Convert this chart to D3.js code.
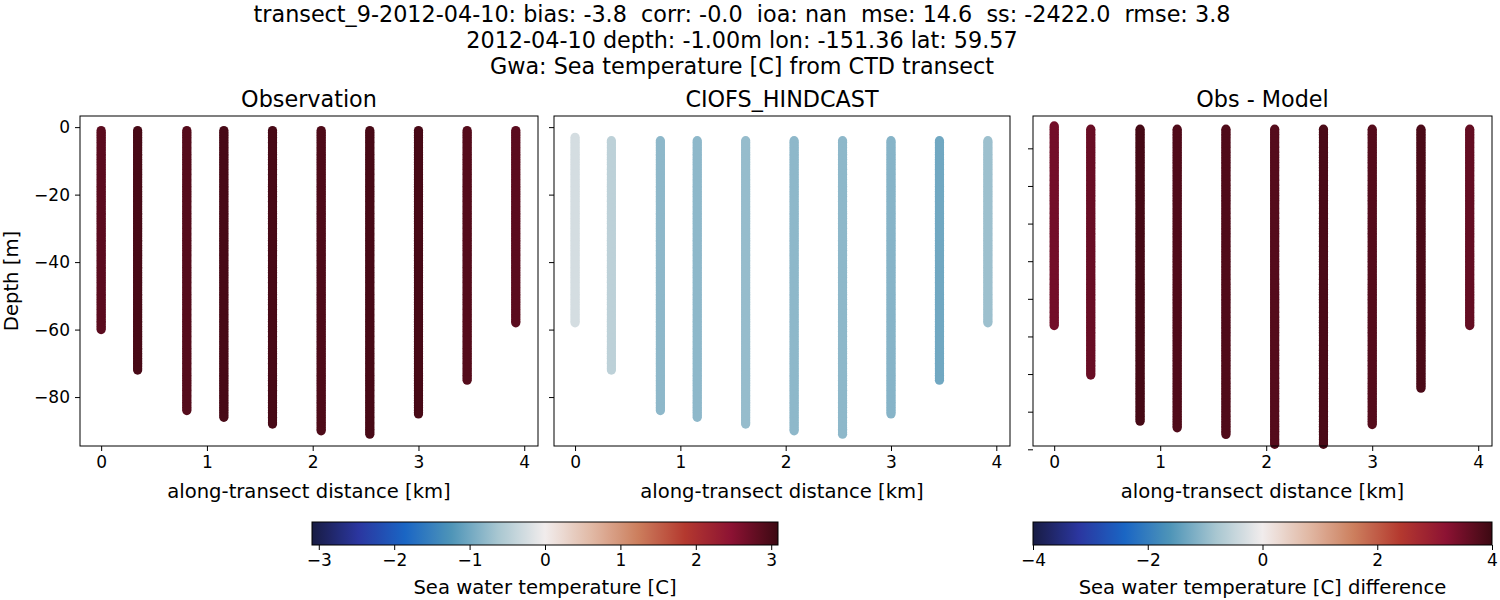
<!DOCTYPE html>
<html><head><meta charset="utf-8">
<script src="https://cdn.jsdelivr.net/npm/d3@7"></script>
<style>body{margin:0;background:#fff;font-family:"DejaVu Sans",sans-serif}text{white-space:pre}</style>
</head><body><svg id="fig" width="1500" height="600"></svg>
<script>
// station data
const dist = [0, 0.345, 0.81, 1.16, 1.62, 2.08, 2.54, 3.0, 3.46, 3.92];
const obsTop = [-1, -1, -1, -1, -1, -1, -1, -1, -1, -1];
const obsBottom = [-60, -72, -84, -86, -88, -90, -91, -85, -75, -58];
const obsTemp = [2.85, 3.0, 2.9, 3.0, 3.0, 2.95, 3.0, 3.0, 2.9, 2.85];
const modTop = [-3, -4, -4, -4, -4, -4, -4, -4, -4, -4];
const modBottom = [-58, -72, -84, -86, -88, -90, -91, -85, -75, -58];
const modTemp = [-0.25, -0.45, -0.8, -0.8, -0.75, -0.8, -0.8, -0.85, -1.0, -0.7];
const diffTop = [1.5, 0.5, 0.5, 0.5, 0.5, 0.5, 0.5, 0.5, 0.5, 0.5];
const diffBottom = [-59, -74, -88, -90, -92, -95, -95, -89, -78, -59];
const diffVal = [3.45, 3.55, 3.9, 3.8, 3.8, 3.75, 3.85, 3.75, 3.85, 3.6];
const xTicks = [0, 1, 2, 3, 4];
const yTicks = [0, -20, -40, -60, -80];
const cb1Ticks = [-3, -2, -1, 0, 1, 2, 3];
const cb2Ticks = [-4, -2, 0, 2, 4];
const titleLines = [
  'transect_9-2012-04-10: bias: -3.8  corr: -0.0  ioa: nan  mse: 14.6  ss: -2422.0  rmse: 3.8',
  '2012-04-10 depth: -1.00m lon: -151.36 lat: 59.57',
  'Gwa: Sea temperature [C] from CTD transect'
];

// approx cmocean "balance"
const balStops = ['#181c43', '#2b36a0', '#1a66c4', '#4f95b8', '#a9c7d1', '#f1ecec',
  '#e1b9a5', '#cc7e5d', '#b4392f', '#8c1233', '#3c0912'];
const balance = d3.scaleLinear().domain(d3.range(11).map(i => i / 10)).range(balStops).clamp(true);

const svg = d3.select('#fig');
const font = '"DejaVu Sans", sans-serif';
const minus = d => d < 0 ? '\u2212' + (-d) : d;

svg.selectAll('text.title').data(titleLines).enter().append('text')
  .attr('x', 742).attr('y', (d, i) => 22 + i * 26)
  .attr('text-anchor', 'middle').attr('font-size', 22.3).attr('font-family', font)
  .text(d => d);

const panels = [
  {x0: 80, x1: 538, title: 'Observation', top: obsTop, bottom: obsBottom, val: obsTemp, vmax: 3.09, yd: [-94.5, 3.3], labels: true},
  {x0: 554, x1: 1010, title: 'CIOFS_HINDCAST', top: modTop, bottom: modBottom, val: modTemp, vmax: 3.09, yd: [-94.5, 3.3], labels: false},
  {x0: 1033, x1: 1492, title: 'Obs - Model', top: diffTop, bottom: diffBottom, val: diffVal, vmax: 4, yd: [-95.5, 4.5], labels: false, diffTicks: true}
];
const y0 = 116, y1 = 446;

panels.forEach(p => {
  const x = d3.scaleLinear().domain([-0.2, 4.13]).range([p.x0, p.x1]);
  const y = d3.scaleLinear().domain(p.yd).range([y1, y0]);
  const col = d3.scaleLinear().domain([-p.vmax, p.vmax]).range([0, 1]);
  const g = svg.append('g');
  const pts = [];
  dist.forEach((d, i) => {
    for (let z = p.top[i]; z >= p.bottom[i]; z -= 0.5) pts.push({x: d, z: z, v: p.val[i]});
  });
  g.selectAll('circle').data(pts).enter().append('circle')
    .attr('cx', d => x(d.x)).attr('cy', d => y(d.z)).attr('r', 4.6)
    .attr('fill', d => balance(col(d.v)));
  g.append('rect').attr('x', p.x0).attr('y', y0).attr('width', p.x1 - p.x0).attr('height', y1 - y0)
    .attr('fill', 'none').attr('stroke', '#000').attr('stroke-width', 1);
  const xa = g.append('g').attr('transform', `translate(0,${y1})`)
    .call(d3.axisBottom(x).tickValues(xTicks).tickSize(5).tickPadding(5).tickFormat(d3.format('d')));
  xa.select('.domain').remove();
  xa.selectAll('text').attr('font-size', 17).attr('font-family', font);
  let ya;
  if (p.diffTicks) {
    const tv = d3.range(9).map(i => -5.3 - i * 11.4);
    ya = g.append('g').attr('transform', `translate(${p.x0},0)`)
      .call(d3.axisLeft(y).tickValues(tv).tickSize(5).tickFormat(''));
  } else {
    ya = g.append('g').attr('transform', `translate(${p.x0},0)`)
      .call(d3.axisLeft(y).tickValues(yTicks).tickSize(5).tickPadding(5)
        .tickFormat(p.labels ? minus : ''));
  }
  ya.select('.domain').remove();
  ya.selectAll('text').attr('font-size', 17).attr('font-family', font);
  g.append('text').attr('x', (p.x0 + p.x1) / 2).attr('y', 107).attr('text-anchor', 'middle')
    .attr('font-size', 22.3).attr('font-family', font).text(p.title);
  g.append('text').attr('x', (p.x0 + p.x1) / 2).attr('y', 498).attr('text-anchor', 'middle')
    .attr('font-size', 19.6).attr('font-family', font).text('along-transect distance [km]');
  if (p.labels) {
    g.append('text').attr('transform', `translate(18,${(y0 + y1) / 2}) rotate(-90)`)
      .attr('text-anchor', 'middle').attr('font-size', 19.6).attr('font-family', font).text('Depth [m]');
  }
});

// colorbars
const defs = svg.append('defs');
const grad = defs.append('linearGradient').attr('id', 'bal');
d3.range(0, 1.001, 0.02).forEach(t => grad.append('stop').attr('offset', t).attr('stop-color', balance(t)));

function colorbar(cx0, cx1, dom, ticks, label) {
  const s = d3.scaleLinear().domain(dom).range([cx0, cx1]);
  const g = svg.append('g');
  g.append('rect').attr('x', cx0).attr('y', 522).attr('width', cx1 - cx0).attr('height', 23)
    .attr('fill', 'url(#bal)').attr('stroke', '#000').attr('stroke-width', 1);
  const a = g.append('g').attr('transform', 'translate(0,545)')
    .call(d3.axisBottom(s).tickValues(ticks).tickSize(5).tickPadding(4).tickFormat(minus));
  a.select('.domain').remove();
  a.selectAll('text').attr('font-size', 17).attr('font-family', font);
  g.append('text').attr('x', (cx0 + cx1) / 2).attr('y', 594).attr('text-anchor', 'middle')
    .attr('font-size', 19.6).attr('font-family', font).text(label);
}
colorbar(312, 778, [-3.09, 3.09], cb1Ticks, 'Sea water temperature [C]');
colorbar(1033, 1492, [-4, 4], cb2Ticks, 'Sea water temperature [C] difference');
</script></body></html>
